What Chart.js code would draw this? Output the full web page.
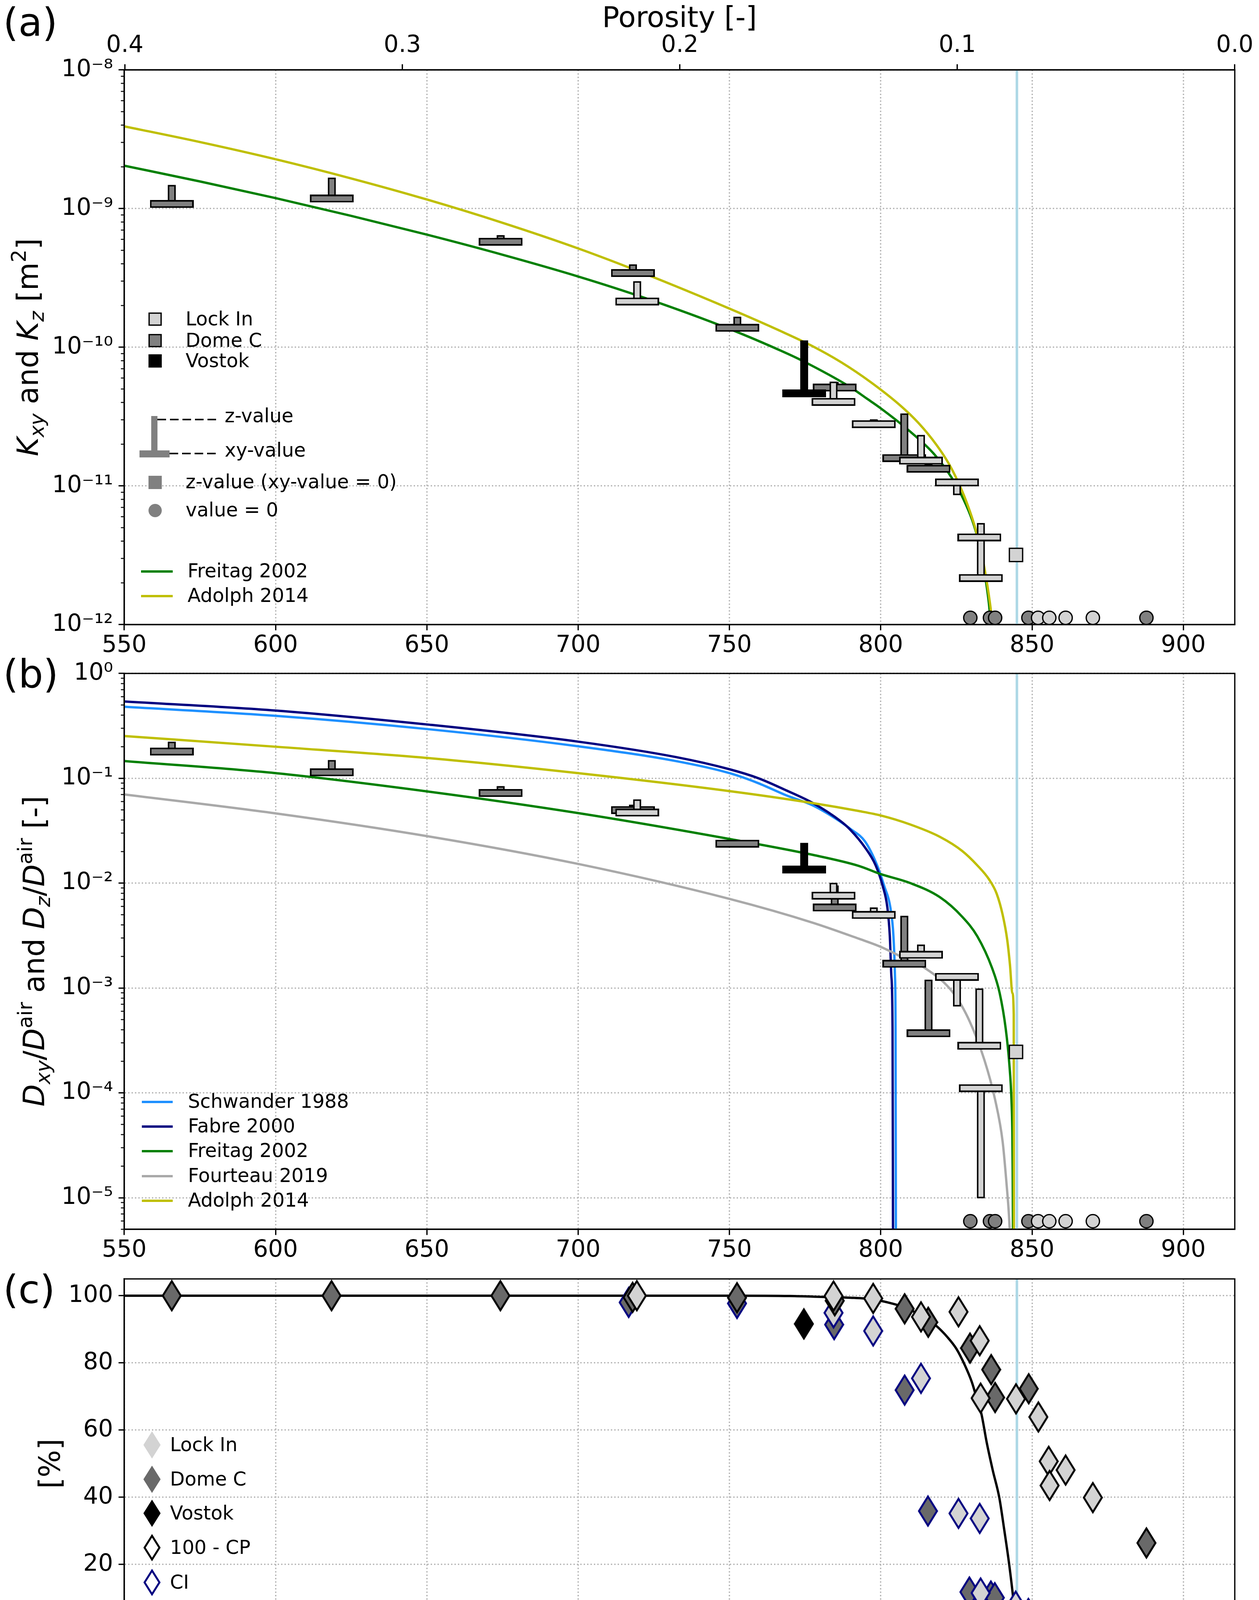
<!DOCTYPE html>
<html>
<head>
<meta charset="utf-8">
<script src="https://cdn.jsdelivr.net/npm/chart.js@4.4.1/dist/chart.umd.min.js"></script>
<style>
html,body{margin:0;padding:0;background:#ffffff;}
body{width:3222px;height:4426px;position:relative;overflow:hidden;}
canvas{position:absolute;left:0;}
</style>
</head>
<body>
<canvas id="cA" width="3222" height="1720" style="top:0px;width:3222px;height:1720px"></canvas>
<canvas id="cB" width="3222" height="1600" style="top:1660px;width:3222px;height:1600px"></canvas>
<canvas id="cC" width="3222" height="1246" style="top:3180px;width:3222px;height:1246px"></canvas>
<script>
// ======================= DATA =======================
const densityTicks = [550, 600, 650, 700, 750, 800, 850, 900];
const densityTickLabels = ['550', '600', '650', '700', '750', '800', '850', '900'];
const porosityTicks = [0.4, 0.3, 0.2, 0.1, 0.0];
const porosityTickLabels = ['0.4', '0.3', '0.2', '0.1', '0.0'];
const kTicks = [1e-12, 1e-11, 1e-10, 1e-9, 1e-8];
const kTickLabels = ['10⁻¹²', '10⁻¹¹', '10⁻¹⁰', '10⁻⁹', '10⁻⁸'];
const dTicks = [1e-5, 1e-4, 1e-3, 1e-2, 1e-1, 1];
const dTickLabels = ['10⁻⁵', '10⁻⁴', '10⁻³', '10⁻²', '10⁻¹', '10⁰'];
const pctTicks = [0, 20, 40, 60, 80, 100];
const pctTickLabels = ['0', '20', '40', '60', '80', '100'];
const densityMin = 550;
const iceDensity = 917;
const closeOffDensity = 845;

// ---- (a) permeability: xy-value (bar) and z-value (stem end) ----
const domeC_rho = [565.7, 618.6, 674.4, 718.1, 752.6, 784.8, 807.8, 815.8];
const domeC_Kxy = [1.08e-9, 1.18e-9, 5.77e-10, 3.43e-10, 1.38e-10, 5.12e-11, 1.59e-11, 1.33e-11];
const domeC_Kz  = [1.48e-9, 1.67e-9, 6.43e-10, 3.96e-10, 1.66e-10, 5.6e-11, 3.33e-11, 1.45e-11];
const lockIn_rho = [719.5, 784.4, 797.7, 813.3, 825.2, 832.6, 833.1];
const lockIn_Kxy = [2.14e-10, 4.04e-11, 2.79e-11, 1.52e-11, 1.06e-11, 4.26e-12, 2.17e-12];
const lockIn_Kz  = [2.99e-10, 5.65e-11, 3.02e-11, 2.33e-11, 8.59e-12, 4.26e-12, 5.4e-12];
const vostok_rho = [774.7];
const vostok_Kxy = [4.66e-11];
const vostok_Kz  = [1.12e-10];
const lockIn_zOnly_rho = [844.7];
const lockIn_Kz_only = [3.18e-12];
const domeC_zero_rho = [829.6, 836.1, 837.8, 848.8, 887.8];
const lockIn_zero_rho = [852.0, 855.7, 861.1, 870.1];
const kZeroLevel = 1.12e-12;

const freitagK_rho = [550, 575, 600, 625, 650, 675, 700, 722, 750, 767.2, 773.8, 789.8, 795.3, 799.7, 809.6, 817.5, 823.4, 827.3, 830.3, 832.2, 834.2, 835.7, 836.4];
const freitagK = [2.04e-9, 1.57e-9, 1.19e-9, 8.86e-10, 6.49e-10, 4.65e-10, 3.24e-10, 2.27e-10, 1.355e-10, 9.4e-11, 8.05e-11, 5.18e-11, 4.28e-11, 3.67e-11, 2.48e-11, 1.71e-11, 1.15e-11, 8.05e-12, 5.6e-12, 4.05e-12, 2.44e-12, 1.45e-12, 1.0e-12];
const adolphK_rho = [550, 575, 600, 625, 650, 675, 700, 722, 750, 767.2, 777, 786.9, 796.7, 806.6, 812.5, 818.4, 822.4, 825.3, 828.3, 831.3, 834.2, 836.2, 836.9];
const adolphK = [3.92e-9, 3.02e-9, 2.27e-9, 1.65e-9, 1.163e-9, 7.9e-10, 5.16e-10, 3.39e-10, 1.90e-10, 1.30e-10, 1.03e-10, 7.8e-11, 5.6e-11, 3.78e-11, 2.84e-11, 1.98e-11, 1.46e-11, 1.10e-11, 7.7e-12, 4.9e-12, 2.6e-12, 1.37e-12, 1.0e-12];

// ---- (b) relative diffusivity ----
const domeC_Dxy = [0.180, 0.114, 0.0724, 0.0498, 0.0238, 0.00585, 0.00170, 3.70e-4];
const domeC_Dz  = [0.223, 0.149, 0.0841, 0.056, 0.0238, 0.0095, 0.00488, 1.20e-3];
const lockIn_Dxy = [0.0471, 0.0076, 0.00497, 0.00207, 0.00128, 2.81e-4, 1.11e-4];
const lockIn_Dz  = [0.0628, 0.01006, 0.00585, 0.00259, 6.68e-4, 9.9e-4, 9.9e-6];
const vostok_Dxy = [0.0135];
const vostok_Dz  = [0.0242];
const lockIn_Dz_only = [2.46e-4];
const dZeroLevel = 5.97e-6;

const schwanderD_rho = [550, 600, 651, 700, 732.5, 750, 759.5, 768.6, 777.6, 786.7, 789.9, 794.8, 798.8, 801.2, 803.2, 804.2, 804.7, 804.9, 805.0];
const schwanderD = [0.481, 0.394, 0.293, 0.202, 0.1456, 0.112, 0.0899, 0.0691, 0.055, 0.0385, 0.033, 0.025, 0.0148, 0.00929, 0.00582, 0.00312, 0.00132, 4.1e-4, 5e-6];
const fabreD_rho = [550, 600, 651, 700, 732.5, 750, 759.5, 768.6, 777.6, 786.7, 789.9, 794.8, 798.3, 800.7, 802.2, 803.0, 803.5, 803.9, 804.05];
const fabreD = [0.541, 0.443, 0.324, 0.2236, 0.159, 0.122, 0.1003, 0.0771, 0.058, 0.0391, 0.0324, 0.0219, 0.01483, 0.00929, 0.00582, 0.00312, 0.00132, 4.1e-4, 5e-6];
const freitagD_rho = [550, 600, 651, 700, 750, 777.6, 792.8, 800, 809.6, 819.5, 826.9, 831.9, 836.8, 839.3, 841.3, 842.5, 843.2, 843.5, 843.6, 843.7];
const freitagD = [0.146, 0.112, 0.0744, 0.0466, 0.0264, 0.0186, 0.0146, 0.0122, 0.01005, 0.00736, 0.00479, 0.00312, 0.00155, 8.96e-4, 4.1e-4, 1.88e-4, 8.6e-5, 3.96e-5, 1.8e-5, 5e-6];
const fourteauD_rho = [550, 600, 651, 700, 750, 777.6, 792.8, 800, 809.6, 814.6, 824, 829.4, 834.3, 837.8, 840.3, 841.5, 842.4, 842.6];
const fourteauD = [0.0702, 0.0463, 0.0278, 0.01525, 0.00708, 0.00419, 0.00295, 0.00247, 0.00181, 0.00155, 8.96e-4, 4.8e-4, 2.04e-4, 8.6e-5, 3.4e-5, 1.44e-5, 6.6e-6, 5e-6];
const adolphD_rho = [550, 600, 651, 700, 750, 777.6, 792.8, 800, 809.6, 819.5, 826.9, 831.9, 835.8, 838.3, 840.3, 841.8, 842.7, 843.5, 843.95, 844.0];
const adolphD = [0.253, 0.2, 0.1555, 0.112, 0.0755, 0.058, 0.0487, 0.0442, 0.0364, 0.0277, 0.0203, 0.0148, 0.01086, 0.00795, 0.00498, 0.00288, 0.00167, 8.96e-4, 5.6e-4, 5e-6];

// ---- (c) open porosity [%] ----
const lockIn_CP_rho = [719.4, 784.4, 797.5, 813.3, 825.7, 832.7, 833.0, 844.7, 852.1, 855.5, 855.8, 861.1, 870.1];
const lockIn_CP = [100.0, 99.9, 99.2, 93.7, 95.2, 86.6, 69.5, 69.3, 63.9, 50.7, 43.5, 48.1, 39.9];
const lockIn_CI_rho = [784.4, 797.5, 813.3, 825.7, 832.7, 833.0, 844.6, 852.0, 855.5, 855.7, 861.1, 870.1];
const lockIn_CI = [94.9, 89.5, 75.4, 35.2, 33.7, 11.5, 7.6, 2.6, 4.4, 1.6, 2.1, 1.6];
const domeC_CP_rho = [565.7, 618.5, 674.3, 718.0, 752.5, 784.8, 807.9, 815.7, 829.5, 836.5, 837.8, 848.9, 887.8];
const domeC_CP = [100.0, 100.0, 100.0, 99.5, 99.4, 98.5, 96.1, 92.1, 84.4, 78.0, 69.7, 72.3, 26.4];
const domeC_CI_rho = [716.7, 752.5, 784.6, 807.9, 815.6, 829.3, 836.4, 837.7, 848.8, 887.8];
const domeC_CI = [98.0, 97.7, 91.4, 71.9, 35.9, 11.8, 10.6, 10.1, 5.4, 2.4];
const vostok_CP_rho = [774.6];
const vostok_CP = [91.6];
const schwander89_rho = [550, 700, 750, 770, 782, 790, 797.5, 802.3, 807.6, 814.3, 818.0, 822.1, 825.0, 827.8, 830.1, 831.9, 833.3, 835.0, 837.0, 839.2, 840.8, 842.3, 843.7, 844.6, 845.0, 917];
const schwander89 = [100, 100, 100, 99.9, 99.6, 99.4, 98.9, 98.0, 96.6, 93.6, 91.3, 87.6, 84.2, 79.3, 74.3, 68.9, 64.7, 56.4, 48.1, 39.8, 30.4, 21.0, 10.6, 2.1, 0, 0];

const seriesNamesB = ['Schwander 1988', 'Fabre 2000', 'Freitag 2002', 'Fourteau 2019', 'Adolph 2014'];

// ======================= STYLE =======================
const FONT = '"DejaVu Sans", "Noto Sans", sans-serif';
Chart.defaults.font.family = FONT;
Chart.defaults.color = '#000';
const GRID = '#b0b0b0';
const LOCK = '#d3d3d3';
const DOME = '#808080';
const DOME_C = '#696969';
const NAVY = '#000080';
const C_GREEN = '#008000', C_YEL = '#bfbf00', C_SCHW = '#1e90ff', C_FABRE = '#000080', C_FOUR = '#a9a9a9', C_LB = '#add8e6';
const POR_MAX = 1 - densityMin / iceDensity;

function rectImg(w, h, fill, stroke, lw) {
  const c = document.createElement('canvas'); c.width = w; c.height = h;
  const g = c.getContext('2d');
  g.fillStyle = fill; g.fillRect(0, 0, w, h);
  if (lw > 0) { g.strokeStyle = stroke; g.lineWidth = lw; g.strokeRect(lw / 2, lw / 2, w - lw, h - lw); }
  return c;
}
function diamondImg(w, h, fill, stroke, lw) {
  const c = document.createElement('canvas'); c.width = w; c.height = h;
  const g = c.getContext('2d');
  const a0 = w / 2, b0 = h / 2;
  const tTop = Math.atan(a0 / b0), tSide = Math.PI / 2 - tTop;
  const dy = lw > 0 ? (lw / 2) / Math.sin(tTop) : 0;
  const dx = lw > 0 ? (lw / 2) / Math.sin(tSide) : 0;
  g.beginPath();
  g.moveTo(w / 2, dy); g.lineTo(w - dx, h / 2); g.lineTo(w / 2, h - dy); g.lineTo(dx, h / 2); g.closePath();
  g.fillStyle = fill; g.fill();
  if (lw > 0) { g.lineJoin = 'miter'; g.miterLimit = 10; g.strokeStyle = stroke; g.lineWidth = lw; g.stroke(); }
  return c;
}

function gridOpts(onArea) {
  return { display: true, drawOnChartArea: onArea, drawTicks: true, color: GRID, lineWidth: 3.3,
           tickLength: 14.6, tickWidth: 3.3, tickColor: '#000', offset: false, borderDash: [3.3, 5.4] };
}
function borderOpts() { return { display: true, color: '#000', width: 3.3, dash: [3.3, 5.4] }; }

function xScale(height, title) {
  return {
    type: 'linear', position: 'bottom', min: densityMin, max: iceDensity, offset: false, beginAtZero: false,
    afterBuildTicks: s => { s.ticks = densityTicks.map(v => ({ value: v })); },
    afterFit: s => { s.height = height; },
    ticks: { autoSkip: false, maxRotation: 0, minRotation: 0, padding: 4, color: '#000', font: { size: 60, family: FONT },
             callback: v => { const i = densityTicks.indexOf(v); return i >= 0 ? densityTickLabels[i] : ''; } },
    grid: gridOpts(true), border: borderOpts(),
    title: title || { display: false }
  };
}
function yScale(type, min, max, ticks, labels) {
  return {
    type, position: 'left', min, max, beginAtZero: false,
    afterBuildTicks: s => { s.ticks = ticks.map(v => ({ value: v })); },
    afterFit: s => { s.width = 318; },
    ticks: { autoSkip: false, padding: 14, color: '#000', font: { size: 60, family: FONT },
             callback: v => { const i = ticks.indexOf(v); return i >= 0 ? labels[i] : ''; } },
    grid: gridOpts(true), border: borderOpts()
  };
}

function xy(rho, vals) { return rho.map((r, i) => ({ x: r, y: vals[i] })); }
function tMarkers(rho, a, b, fill, orderTop) {
  return [
    { type: 'bar', data: rho.map((r, i) => ({ x: r, y: [a[i], b[i]] })), backgroundColor: fill, borderColor: '#000',
      borderWidth: 4, borderSkipped: false, barThickness: 20, grouped: false, order: orderTop + 1, xAxisID: 'x', yAxisID: 'y' },
    { type: 'scatter', data: xy(rho, a), pointStyle: rectImg(112, 20, fill, '#000', 4), pointRadius: 10, pointHoverRadius: 10,
      order: orderTop, clip: false, xAxisID: 'x', yAxisID: 'y' }
  ];
}
function dots(rho, level, fill, style, radius, order) {
  return { type: 'scatter', data: rho.map(r => ({ x: r, y: level })), pointStyle: style, pointRadius: radius, pointHoverRadius: radius,
           pointBackgroundColor: fill, pointBorderColor: '#000', pointBorderWidth: 3.3, order, clip: false, xAxisID: 'x', yAxisID: 'y' };
}
function points(rho, vals, img, order) {
  return { type: 'scatter', data: xy(rho, vals), pointStyle: img, pointRadius: 10, pointHoverRadius: 10, order, clip: false, xAxisID: 'x', yAxisID: 'y' };
}
function curve(rho, vals, color, order, lw) {
  return { type: 'scatter', showLine: true, data: xy(rho, vals), borderColor: color, backgroundColor: color, borderWidth: lw || 6,
           pointRadius: 0, pointHoverRadius: 0, cubicInterpolationMode: 'monotone', fill: false, order, xAxisID: 'x', yAxisID: 'y' };
}
function vline(x, y0, y1, order) {
  return { type: 'scatter', showLine: true, data: [{ x, y: y0 }, { x, y: y1 }], borderColor: C_LB, borderWidth: 6.5,
           pointRadius: 0, pointHoverRadius: 0, order, xAxisID: 'x', yAxisID: 'y' };
}

// ---------- drawing helpers for decorations ----------
function drawText(ctx, text, x, y, size, opt) {
  opt = opt || {};
  ctx.font = (opt.italic ? 'italic ' : '') + size + 'px ' + FONT;
  ctx.fillStyle = opt.color || '#000';
  ctx.textAlign = opt.align || 'left';
  ctx.textBaseline = opt.baseline || 'middle';
  ctx.fillText(text, x, y);
}
function richText(ctx, parts, x, y, size, rotate, align, baseline) {
  const items = parts.map(([t, st]) => {
    const it = st.indexOf('i') === 0;
    const sub = st.indexOf('sub') >= 0, sup = st.indexOf('sup') >= 0;
    const sz = (sub || sup) ? size * 0.7 : size;
    const font = (it ? 'italic ' : '') + sz.toFixed(1) + 'px ' + FONT;
    ctx.font = font;
    return { t, font, w: ctx.measureText(t).width, dy: sub ? size * 0.2 : (sup ? -size * 0.42 : 0) };
  });
  const W = items.reduce((s, it) => s + it.w, 0);
  ctx.save();
  ctx.translate(x, y);
  if (rotate) ctx.rotate(-Math.PI / 2);
  let cx = align === 'left' ? 0 : -W / 2;
  ctx.textAlign = 'left'; ctx.textBaseline = baseline || 'alphabetic'; ctx.fillStyle = '#000';
  items.forEach(it => { ctx.font = it.font; ctx.fillText(it.t, cx, it.dy); cx += it.w; });
  ctx.restore();
}
function drawFrame(chart, ctx) {
  const a = chart.chartArea;
  ctx.save(); ctx.setLineDash([]); ctx.strokeStyle = '#000'; ctx.lineWidth = 3.3;
  ctx.strokeRect(a.left, a.top, a.right - a.left, a.bottom - a.top); ctx.restore();
}
function minorLogValues(min, max) {
  const out = [];
  for (let e = Math.floor(Math.log10(min)); e < Math.ceil(Math.log10(max)); e++) {
    for (let k = 2; k <= 9; k++) { const v = k * Math.pow(10, e); if (v >= min * 0.999 && v <= max * 1.001) out.push(v); }
  }
  return out;
}
function drawMinorTicks(chart, ctx, vals) {
  const s = chart.scales.y, a = chart.chartArea;
  ctx.save(); ctx.strokeStyle = '#000'; ctx.lineWidth = 2.5; ctx.setLineDash([]);
  vals.forEach(v => {
    const y = s.getPixelForValue(v);
    if (y < a.top - 1 || y > a.bottom + 1) return;
    ctx.beginPath(); ctx.moveTo(a.left - 8.6, y); ctx.lineTo(a.left, y); ctx.stroke();
  });
  ctx.restore();
}
function legendLine(ctx, x0, x1, y, color, lw, dash) {
  ctx.save(); ctx.strokeStyle = color; ctx.lineWidth = lw; ctx.setLineDash(dash || []);
  ctx.beginPath(); ctx.moveTo(x0, y); ctx.lineTo(x1, y); ctx.stroke(); ctx.restore();
}
function legendSquare(ctx, cx, cy, s, fill, edge) {
  ctx.save(); ctx.fillStyle = fill; ctx.fillRect(cx - s / 2, cy - s / 2, s, s);
  if (edge) { ctx.strokeStyle = edge; ctx.lineWidth = 3.3; ctx.strokeRect(cx - s / 2 + 1.6, cy - s / 2 + 1.6, s - 3.3, s - 3.3); }
  ctx.restore();
}

const baseOpts = (padding) => ({
  responsive: false, animation: false, devicePixelRatio: 1, events: [],
  layout: { padding },
  plugins: { legend: { display: false }, tooltip: { enabled: false } }
});

// ======================= PANEL (a) =======================
const decoA = { id: 'decoA', afterDraw(chart) {
  const ctx = chart.ctx; ctx.save();
  drawMinorTicks(chart, ctx, minorLogValues(1e-12, 1e-8));
  drawFrame(chart, ctx);
  drawText(ctx, '(a)', 8, 92, 100, { baseline: 'alphabetic' });
  richText(ctx, [['K', 'i'], ['xy', 'isub'], [' and ', ''], ['K', 'i'], ['z', 'isub'], [' [m', ''], ['2', 'sup'], [']', '']], 97, 889, 74, true);
  // legend group 1: sites
  legendSquare(ctx, 397, 817, 34, LOCK, '#000'); drawText(ctx, 'Lock In', 475, 820, 49);
  legendSquare(ctx, 397, 872, 34, DOME, '#000'); drawText(ctx, 'Dome C', 475, 875, 49);
  legendSquare(ctx, 397, 924, 34, '#000', null); drawText(ctx, 'Vostok', 475, 927, 49);
  // legend group 2: glyph explanation
  ctx.fillStyle = DOME; ctx.fillRect(387, 1065, 16, 90); ctx.fillRect(357, 1153, 77, 18);
  legendLine(ctx, 403, 553, 1074, '#000', 4, [22, 10]);
  legendLine(ctx, 434, 553, 1161, '#000', 4, [22, 10]);
  drawText(ctx, 'z-value', 575, 1068, 49);
  drawText(ctx, 'xy-value', 575, 1156, 49);
  legendSquare(ctx, 397, 1235, 34, DOME, null); drawText(ctx, 'z-value (xy-value = 0)', 475, 1237, 49);
  ctx.fillStyle = DOME; ctx.beginPath(); ctx.arc(397, 1307, 17, 0, Math.PI * 2); ctx.fill();
  drawText(ctx, 'value = 0', 475, 1309, 49);
  // legend group 3: models
  legendLine(ctx, 361, 442, 1463, C_GREEN, 6); drawText(ctx, 'Freitag 2002', 480, 1465, 49);
  legendLine(ctx, 361, 442, 1526, C_YEL, 6); drawText(ctx, 'Adolph 2014', 480, 1528, 49);
  ctx.restore();
} };

const optsA = baseOpts({ left: 0, right: 62, top: 0, bottom: 11 });
optsA.scales = {
  x: xScale(110),
  xTop: {
    type: 'linear', position: 'top', min: 0, max: POR_MAX, reverse: true, offset: false, display: true,
    afterBuildTicks: s => { s.ticks = porosityTicks.map(v => ({ value: v })); },
    afterFit: s => { s.height = 179; },
    ticks: { autoSkip: false, maxRotation: 0, minRotation: 0, padding: 11, color: '#000', font: { size: 60, family: FONT },
             callback: v => { const i = porosityTicks.indexOf(v); return i >= 0 ? porosityTickLabels[i] : ''; } },
    grid: gridOpts(false), border: borderOpts(),
    title: { display: true, text: 'Porosity [-]', color: '#000', font: { size: 73, family: FONT }, padding: { top: 6, bottom: 0 } }
  },
  y: yScale('logarithmic', 1e-12, 1e-8, kTicks, kTickLabels)
};
new Chart(document.getElementById('cA'), {
  type: 'scatter',
  data: { datasets: [
    ...tMarkers(lockIn_rho, lockIn_Kxy, lockIn_Kz, LOCK, 1),
    dots(lockIn_zOnly_rho, lockIn_Kz_only[0], LOCK, 'rect', 24, 1),
    ...tMarkers(vostok_rho, vostok_Kxy, vostok_Kz, '#000', 3),
    ...tMarkers(domeC_rho, domeC_Kxy, domeC_Kz, DOME, 5),
    dots(lockIn_zero_rho, kZeroLevel, LOCK, 'circle', 17, 7),
    dots(domeC_zero_rho, kZeroLevel, DOME, 'circle', 17, 8),
    curve(adolphK_rho, adolphK, C_YEL, 10),
    curve(freitagK_rho, freitagK, C_GREEN, 11),
    vline(closeOffDensity, 1e-12, 1e-8, 20)
  ] },
  options: optsA,
  plugins: [decoA]
});

// ======================= PANEL (b) =======================
const OYB = 1660;
const decoB = { id: 'decoB', afterDraw(chart) {
  const ctx = chart.ctx; ctx.save();
  drawMinorTicks(chart, ctx, minorLogValues(5e-6, 1));
  drawFrame(chart, ctx);
  drawText(ctx, '(b)', 8, 1760 - OYB, 100, { baseline: 'alphabetic' });
  richText(ctx, [['D', 'i'], ['xy', 'isub'], ['/', ''], ['D', 'i'], ['air', 'sup'], [' and ', ''], ['D', 'i'], ['z', 'isub'], ['/', ''], ['D', 'i'], ['air', 'sup'], [' [-]', '']], 113, 2435 - OYB, 74, true);
  const cols = [C_SCHW, C_FABRE, C_GREEN, C_FOUR, C_YEL];
  const ys = [2821, 2884, 2947, 3011, 3074];
  seriesNamesB.forEach((t, i) => { legendLine(ctx, 363, 442, ys[i] - OYB, cols[i], 6); drawText(ctx, t, 481, ys[i] - OYB + 2, 49); });
  ctx.restore();
} };
const optsB = baseOpts({ left: 0, right: 62, top: 64, bottom: 3 });
optsB.scales = { x: xScale(110), y: yScale('logarithmic', 5e-6, 1, dTicks, dTickLabels) };
new Chart(document.getElementById('cB'), {
  type: 'scatter',
  data: { datasets: [
    ...tMarkers(lockIn_rho, lockIn_Dxy, lockIn_Dz, LOCK, 1),
    dots(lockIn_zOnly_rho, lockIn_Dz_only[0], LOCK, 'rect', 24, 1),
    ...tMarkers(vostok_rho, vostok_Dxy, vostok_Dz, '#000', 3),
    ...tMarkers(domeC_rho, domeC_Dxy, domeC_Dz, DOME, 5),
    dots(lockIn_zero_rho, dZeroLevel, LOCK, 'circle', 17, 7),
    dots(domeC_zero_rho, dZeroLevel, DOME, 'circle', 17, 8),
    curve(adolphD_rho, adolphD, C_YEL, 10),
    curve(fourteauD_rho, fourteauD, C_FOUR, 11),
    curve(freitagD_rho, freitagD, C_GREEN, 12),
    curve(fabreD_rho, fabreD, C_FABRE, 13),
    curve(schwanderD_rho, schwanderD, C_SCHW, 14),
    vline(closeOffDensity, 5e-6, 1, 20)
  ] },
  options: optsB,
  plugins: [decoB]
});

// ======================= PANEL (c) =======================
const OYC = 3180;
const DW = 52, DH = 84, DLW = 5;
const imgLockCP = diamondImg(DW, DH, LOCK, '#000', DLW);
const imgLockCI = diamondImg(DW, DH, LOCK, NAVY, DLW);
const imgDomeCP = diamondImg(DW, DH, DOME_C, '#000', DLW);
const imgDomeCI = diamondImg(DW, DH, DOME_C, NAVY, DLW);
const imgVostok = diamondImg(DW, DH, '#000', '#000', DLW);
const legDiamonds = [
  [diamondImg(44, 70, LOCK, LOCK, 0), 'Lock In', 3699],
  [diamondImg(44, 70, DOME_C, DOME_C, 0), 'Dome C', 3787],
  [diamondImg(44, 70, '#000', '#000', 0), 'Vostok', 3874],
  [diamondImg(44, 70, '#fff', '#000', 5), '100 - CP', 3962],
  [diamondImg(44, 70, '#fff', NAVY, 5), 'CI', 4051]
];
const decoC = { id: 'decoC', afterDraw(chart) {
  const ctx = chart.ctx; ctx.save();
  drawFrame(chart, ctx);
  drawText(ctx, '(c)', 8, 3336 - OYC, 100, { baseline: 'alphabetic' });
  richText(ctx, [['[%]', '']], 153, 3747 - OYC, 74, true);
  legDiamonds.forEach(([img, t, y]) => {
    ctx.drawImage(img, 389 - img.width / 2, y - OYC - img.height / 2);
    drawText(ctx, t, 435, y - OYC + 3, 49);
  });
  legendLine(ctx, 360, 416, 4139 - OYC, '#000', 6);
  richText(ctx, [['ϕ', 'i'], ['op', 'isub'], [' / ', ''], ['ϕ', 'i'], [' x 100 from Schwander 1989', '']], 435, 4143 - OYC + 17, 49, false, 'left');
  ctx.restore();
} };
const optsC = baseOpts({ left: 0, right: 62, top: 94, bottom: 8 });
optsC.scales = {
  x: xScale(198, { display: true, text: 'Density [kg m⁻³]', color: '#000', font: { size: 73, family: FONT }, padding: { top: 0, bottom: 10 } }),
  y: yScale('linear', -5, 105, pctTicks, pctTickLabels)
};
new Chart(document.getElementById('cC'), {
  type: 'scatter',
  data: { datasets: [
    points(lockIn_CP_rho, lockIn_CP, imgLockCP, 1),
    points(domeC_CP_rho, domeC_CP, imgDomeCP, 2),
    points(vostok_CP_rho, vostok_CP, imgVostok, 3),
    points(lockIn_CI_rho, lockIn_CI, imgLockCI, 4),
    points(domeC_CI_rho, domeC_CI, imgDomeCI, 5),
    curve(schwander89_rho, schwander89, '#000', 10, 6),
    vline(closeOffDensity, -5, 105, 20)
  ] },
  options: optsC,
  plugins: [decoC]
});
</script>
</body>
</html>
